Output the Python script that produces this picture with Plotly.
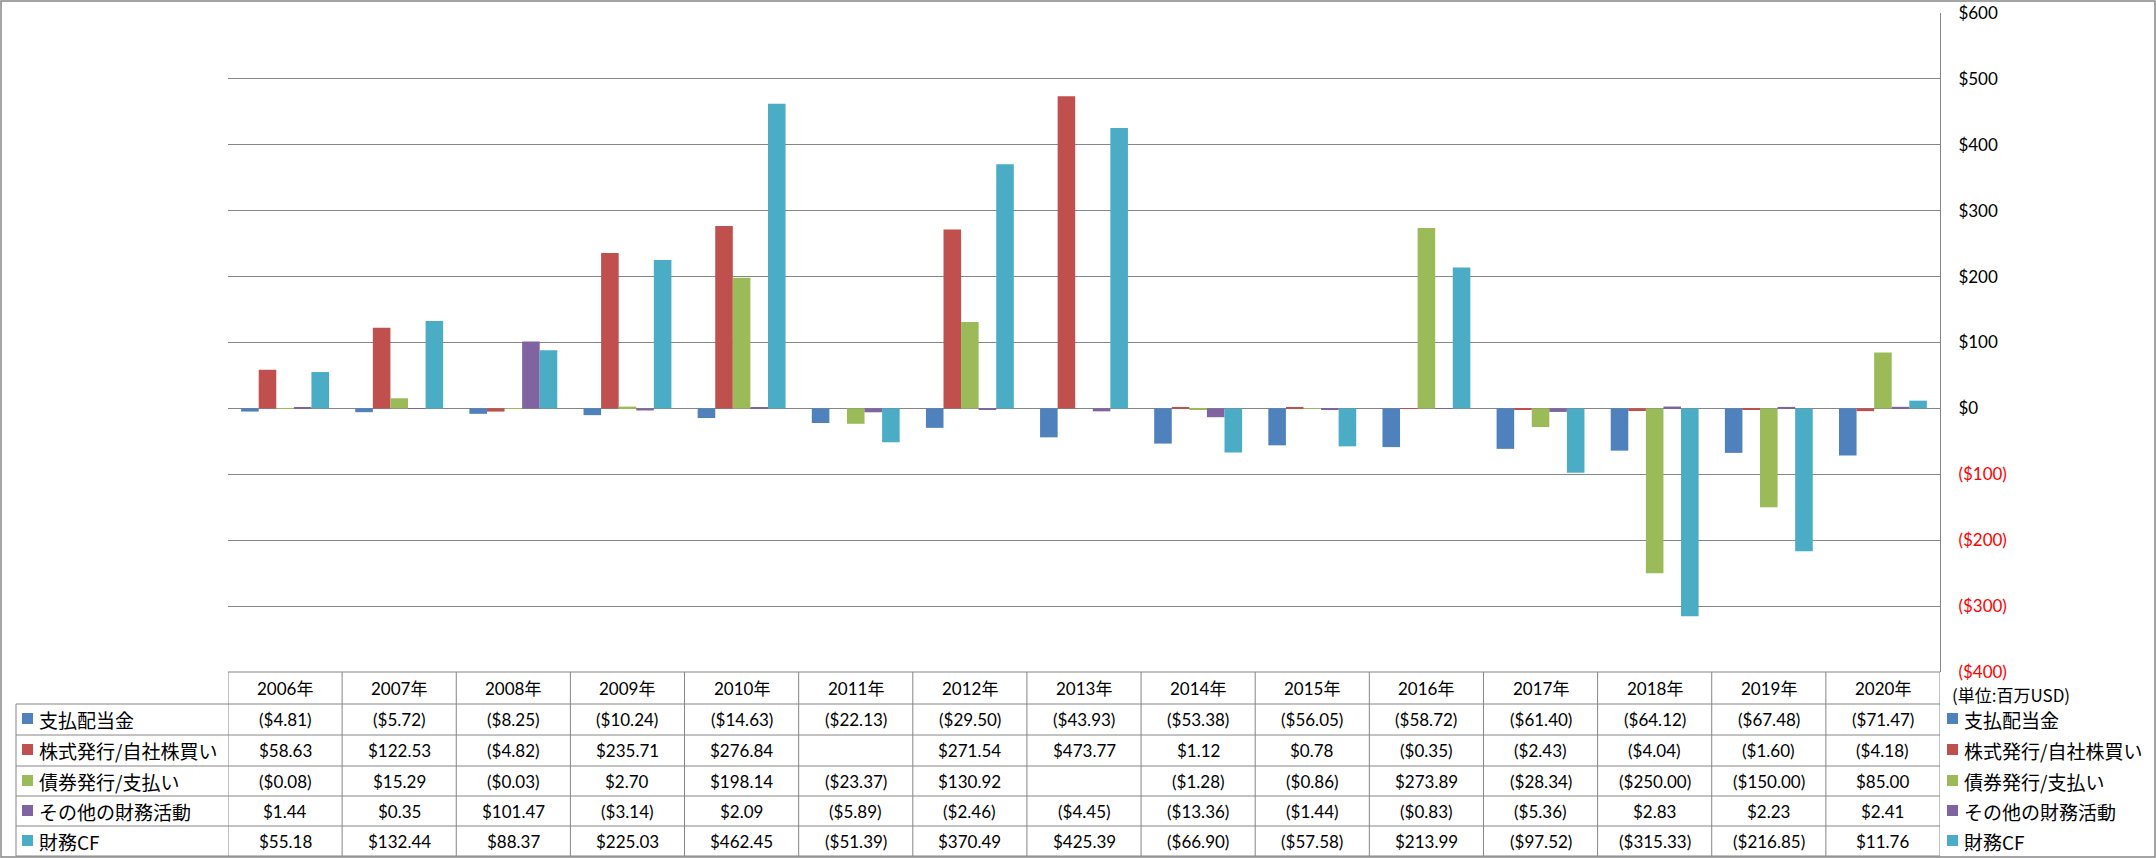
import plotly.graph_objects as go

years = ["2006年", "2007年", "2008年", "2009年", "2010年", "2011年", "2012年", "2013年",
         "2014年", "2015年", "2016年", "2017年", "2018年", "2019年", "2020年"]

names = ["支払配当金", "株式発行/自社株買い", "債券発行/支払い", "その他の財務活動", "財務CF"]

dividends = [-4.81, -5.72, -8.25, -10.24, -14.63, -22.13, -29.50, -43.93,
             -53.38, -56.05, -58.72, -61.40, -64.12, -67.48, -71.47]
stock = [58.63, 122.53, -4.82, 235.71, 276.84, None, 271.54, 473.77,
         1.12, 0.78, -0.35, -2.43, -4.04, -1.60, -4.18]
bonds = [-0.08, 15.29, -0.03, 2.70, 198.14, -23.37, 130.92, None,
         -1.28, -0.86, 273.89, -28.34, -250.00, -150.00, 85.00]
other = [1.44, 0.35, 101.47, -3.14, 2.09, -5.89, -2.46, -4.45,
         -13.36, -1.44, -0.83, -5.36, 2.83, 2.23, 2.41]
fin_cf = [55.18, 132.44, 88.37, 225.03, 462.45, -51.39, 370.49, 425.39,
          -66.90, -57.58, 213.99, -97.52, -315.33, -216.85, 11.76]

y_ticks = [600, 500, 400, 300, 200, 100, 0, -100, -200, -300, -400]
unit_note = "(単位:百万USD)"

series = [dividends, stock, bonds, other, fin_cf]
colors = ["#4F81BD", "#C0504D", "#9BBB59", "#8064A2", "#4BACC6"]

W, H = 2156, 858
GRID = "#868686"
NUM_FONT = "Lato, Noto Sans CJK JP, sans-serif"
JP_FONT = "Noto Sans CJK JP, sans-serif"


def px(x):
    return x / W


def py(y):
    return 1 - y / H


def money(v):
    if v is None:
        return ""
    s = "${:,.2f}".format(abs(v))
    return "(" + s + ")" if v < 0 else s


def tick_label(v):
    s = "${:,}".format(abs(v))
    if v < 0:
        return '<span style="color:#FF0000">(' + s + ')</span>'
    return s


fig = go.Figure()
for name, vals, c in zip(names, series, colors):
    fig.add_trace(go.Bar(x=years, y=vals, name=name, marker_color=c,
                         marker_line_width=0))

# table geometry (pixels)
header_top = 672
row_tops = [704, 735, 766, 796, 826]
row_bottom = 856
row_mid = [719, 750, 781, 811, 841]
header_mid = 688
label_left = 16

shapes = []
annos = []

# horizontal table lines
shapes.append(dict(type="line", xref="paper", yref="paper", x0=px(228), x1=px(1940),
                   y0=py(header_top), y1=py(header_top), line=dict(color=GRID, width=1)))
for t in row_tops + [row_bottom]:
    shapes.append(dict(type="line", xref="paper", yref="paper", x0=px(label_left), x1=px(1940),
                       y0=py(t), y1=py(t), line=dict(color=GRID, width=1)))
# vertical table lines
for i in range(len(years) + 1):
    shapes.append(dict(type="line", xref="x", yref="paper", x0=i - 0.5, x1=i - 0.5,
                       y0=py(header_top), y1=py(row_bottom), line=dict(color=GRID, width=1)))
shapes.append(dict(type="line", xref="paper", yref="paper", x0=px(label_left), x1=px(label_left),
                   y0=py(row_tops[0]), y1=py(row_bottom), line=dict(color=GRID, width=1)))
# outer border
shapes.append(dict(type="rect", xref="paper", yref="paper", x0=px(1), x1=px(W - 1),
                   y0=py(H - 1), y1=py(1), line=dict(color=GRID, width=1.5)))

# header
for yr in years:
    annos.append(dict(x=yr, xref="x", y=py(header_mid), yref="paper", text=yr,
                      showarrow=False, xanchor="center", yanchor="middle",
                      font=dict(family=NUM_FONT, size=17, color="black")))
# cells
for r, vals in enumerate(series):
    for yr, v in zip(years, vals):
        annos.append(dict(x=yr, xref="x", y=py(row_mid[r]), yref="paper", text=money(v),
                          showarrow=False, xanchor="center", yanchor="middle",
                          font=dict(family=NUM_FONT, size=17, color="black")))
# row labels with keys, left (table) and right (legend)
for r, (name, c) in enumerate(zip(names, colors)):
    for sq_x, tx in [(22, 37), (1947, 1962)]:
        shapes.append(dict(type="rect", xref="paper", yref="paper",
                           x0=px(sq_x), x1=px(sq_x + 11),
                           y0=py(row_mid[r] + 5), y1=py(row_mid[r] - 6),
                           fillcolor=c, line=dict(width=0)))
        annos.append(dict(x=px(tx), xref="paper", y=py(row_mid[r]), yref="paper", text=name,
                          showarrow=False, xanchor="left", yanchor="middle",
                          font=dict(family=JP_FONT, size=19, color="black")))

annos.append(dict(x=px(1950), xref="paper", y=py(694), yref="paper", text=unit_note,
                  showarrow=False, xanchor="left", yanchor="middle",
                  font=dict(family=JP_FONT, size=17, color="black")))

fig.update_layout(
    width=W, height=H,
    margin=dict(l=0, r=0, t=0, b=0),
    paper_bgcolor="white", plot_bgcolor="white",
    barmode="group", bargap=0.23, bargroupgap=0,
    showlegend=False,
    shapes=shapes, annotations=annos,
    xaxis=dict(domain=[px(228), px(1940)], range=[-0.5, len(years) - 0.5],
               showticklabels=False, showgrid=False, zeroline=False, showline=False,
               automargin=False),
    yaxis=dict(domain=[py(header_top), py(13)], side="right", range=[-400, 600],
               tickvals=y_ticks, ticktext=[tick_label(v) for v in y_ticks],
               showgrid=True, gridcolor=GRID, gridwidth=1, zeroline=False,
               showline=True, linecolor=GRID, linewidth=1, ticks="",
               ticklabelstandoff=14, automargin=False,
               tickfont=dict(family="Lato, sans-serif", size=17, color="black")),
)

fig.write_html("out.html", config={"displayModeBar": False},
               post_script="document.body.style.margin='0';")
